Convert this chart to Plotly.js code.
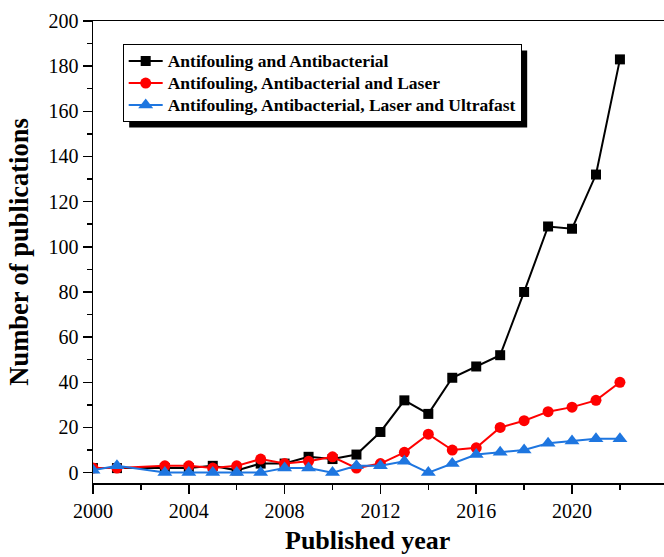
<!DOCTYPE html>
<html>
<head>
<meta charset="utf-8">
<script src="https://cdn.plot.ly/plotly-3.0.1.min.js"></script>
<style>
  html, body { margin: 0; padding: 0; background: #fff; }
  #chart { width: 664px; height: 557px; }
</style>
</head>
<body>
<div id="chart"></div>
<script>
// Publication counts per year (no entries for 2002)
const years = [2000, 2001, 2003, 2004, 2005, 2006, 2007, 2008, 2009, 2010, 2011,
               2012, 2013, 2014, 2015, 2016, 2017, 2018, 2019, 2020, 2021, 2022];
const antifoulingAntibacterial = [2, 2, 2, 2, 3, 1, 4, 4, 7, 6, 8,
                                  18, 32, 26, 42, 47, 52, 80, 109, 108, 132, 183];
const withLaser = [2, 2, 3, 3, 2, 3, 6, 4, 5, 7, 2,
                   4, 9, 17, 10, 11, 20, 23, 27, 29, 32, 40];
const withLaserUltrafast = [1, 3, 0, 0, 0, 0, 0, 2, 2, 0, 3,
                            3, 5, 0, 4, 8, 9, 10, 13, 14, 15, 15];
const seriesNames = [
  'Antifouling and Antibacterial',
  'Antifouling, Antibacterial and Laser',
  'Antifouling, Antibacterial, Laser and Ultrafast'
];
const xTitle = 'Published year';
const yTitle = 'Number of publications';

const serif = 'Liberation Serif, Times New Roman, serif';
// legend rows are spaced by the base legend font; the entry text itself is set a bit larger
const legendLabel = s => '<span style="font-size:17.5px">' + s + '</span>';

const traces = [
  { x: years, y: antifoulingAntibacterial, name: legendLabel(seriesNames[0]), mode: 'lines+markers',
    line: { color: '#000000', width: 2 }, marker: { symbol: 'square', size: 10, color: '#000000' } },
  { x: years, y: withLaser, name: legendLabel(seriesNames[1]), mode: 'lines+markers',
    line: { color: '#ff0000', width: 2 }, marker: { symbol: 'circle', size: 11, color: '#ff0000' } },
  { x: years, y: withLaserUltrafast, name: legendLabel(seriesNames[2]), mode: 'lines+markers',
    line: { color: '#1e76e0', width: 2 }, marker: { symbol: 'triangle-up', size: 13, color: '#1e76e0' } }
];

const layout = {
  width: 664, height: 557,
  margin: { l: 93, r: 0, t: 21, b: 74 },
  paper_bgcolor: '#ffffff', plot_bgcolor: '#ffffff',
  font: { family: serif, color: '#000000', size: 20 },
  showlegend: true,
  legend: {
    x: 0.052, y: 0.95, xanchor: 'left', yanchor: 'top',
    bgcolor: '#ffffff', bordercolor: '#000000', borderwidth: 1,
    font: { family: serif, size: 14.6, weight: 'bold', color: '#000000' },
    itemwidth: 34
  },
  xaxis: {
    range: [2000, 2023.84], showgrid: false, zeroline: false,
    showline: true, linecolor: '#000000', linewidth: 1.5, mirror: true,
    tickmode: 'linear', tick0: 2000, dtick: 4,
    ticks: 'outside', ticklen: 9, tickwidth: 1.5, tickcolor: '#000000',
    minor: { tickmode: 'linear', tick0: 2000, dtick: 2, ticks: 'outside', ticklen: 5, tickwidth: 1.5, tickcolor: '#000000' },
    tickfont: { family: serif, size: 20 }
  },
  yaxis: {
    range: [-4.6, 200], showgrid: false, zeroline: false,
    showline: true, linecolor: '#000000', linewidth: 1.5, mirror: false,
    tickmode: 'linear', tick0: 0, dtick: 20,
    ticks: 'outside', ticklen: 9, tickwidth: 1.5, tickcolor: '#000000',
    minor: { tickmode: 'linear', tick0: 0, dtick: 10, ticks: 'outside', ticklen: 5, tickwidth: 1.5, tickcolor: '#000000' },
    tickfont: { family: serif, size: 20 },
    title: { text: yTitle, font: { family: serif, size: 26.5, weight: 'bold' }, standoff: 12 }
  },
  annotations: [{
    text: xTitle, xref: 'paper', yref: 'paper', x: 0.48, y: -0.159,
    xanchor: 'center', yanchor: 'bottom', showarrow: false, borderpad: 0,
    font: { family: serif, size: 26, weight: 'bold', color: '#000000' }
  }]
};

const gd = document.getElementById('chart');
Plotly.newPlot(gd, traces, layout, { displayModeBar: false, staticPlot: true }).then(() => {
  // Drop shadow behind the legend box, offset down and right
  const bg = gd.querySelector('.legend .bg');
  if (!bg) return;
  const box = bg.getBoundingClientRect();
  const host = gd.getBoundingClientRect();
  const sz = gd._fullLayout._size;
  const off = 6;
  const toX = px => (px - host.left - sz.l) / sz.w;
  const toY = py => 1 - (py - host.top - sz.t) / sz.h;
  return Plotly.relayout(gd, {
    shapes: [{
      type: 'rect', xref: 'paper', yref: 'paper', layer: 'above',
      x0: toX(box.left + off), x1: toX(box.right + off),
      y0: toY(box.bottom + off), y1: toY(box.top + off),
      fillcolor: '#000000', line: { width: 0 }
    }]
  });
});
</script>
</body>
</html>
